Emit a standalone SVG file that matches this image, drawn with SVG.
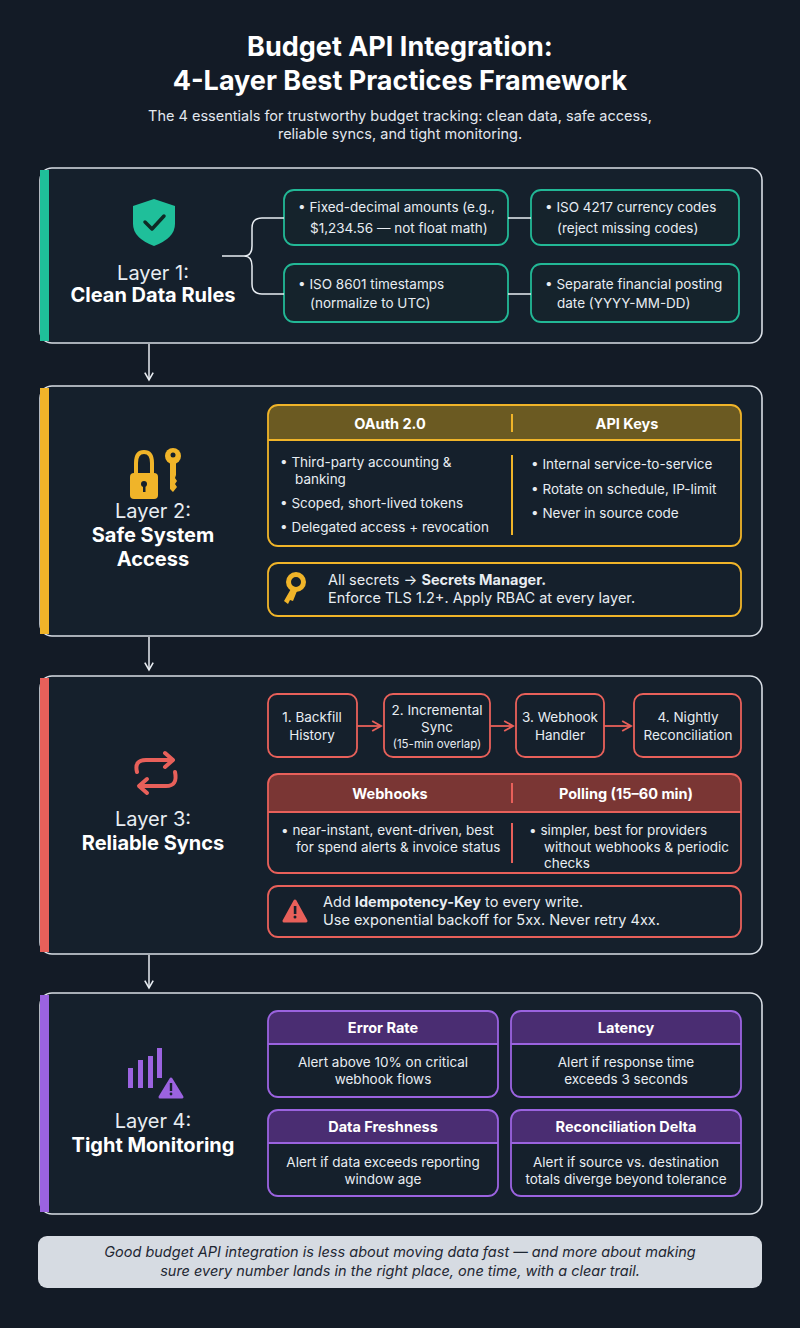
<svg xmlns="http://www.w3.org/2000/svg" width="800" height="1328" viewBox="0 0 800 1328">
<defs>
<style>
text{font-family:Inter,"Liberation Sans",sans-serif;fill:#e8edf2}
.t{font-size:27px;font-weight:700;fill:#fff}
.sub{font-size:14.5px;fill:#e2e7ee}
.panel{fill:#15202c;stroke:#d9dee5;stroke-width:1.6}
.lt{font-size:20px;fill:#e8edf2}
.lb{font-size:20px;font-weight:700;fill:#fff}
.b{font-size:13.5px}
.bb{font-size:13.5px;font-weight:700}
.h{font-size:14.5px;font-weight:700;fill:#fff}
.g{fill:#15232c;stroke:#22b896;stroke-width:1.8}
.y{fill:none;stroke:#f0b429;stroke-width:1.8}
.r{fill:none;stroke:#e8605a;stroke-width:1.8}
.p{fill:none;stroke:#9b63e0;stroke-width:1.8}
.c{text-anchor:middle}
.con{fill:none;stroke:#e8edf2;stroke-width:1.5}
</style>
<marker id="ah" viewBox="0 0 10 10" refX="8" refY="5" markerWidth="7" markerHeight="7" orient="auto"><path d="M1 1L8 5L1 9" fill="none" stroke="#e8edf2" stroke-width="1.5"/></marker>
<marker id="ar" viewBox="0 0 10 10" refX="8" refY="5" markerWidth="7" markerHeight="7" orient="auto"><path d="M1 1L8 5L1 9" fill="none" stroke="#e8605a" stroke-width="1.5"/></marker>
</defs>
<rect width="800" height="1328" fill="#131b26"/>
<g id="title">
<text class="t c" x="400" y="56">Budget API Integration:</text>
<text class="t c" x="400" y="90">4-Layer Best Practices Framework</text>
<text class="sub c" x="400" y="121">The 4 essentials for trustworthy budget tracking: clean data, safe access,</text>
<text class="sub c" x="400" y="139">reliable syncs, and tight monitoring.</text>
</g>
<g id="layer1">
<rect class="panel" x="40" y="168" width="722" height="175" rx="12"/>
<rect x="40" y="170" width="9" height="171" fill="#1fbf9a"/>
<path d="M154 199L175 206V224Q175 238 154 246Q133 238 133 224V206Z" fill="#1fbf9a"/>
<path d="M145 222L152 229L164 216" fill="none" stroke="#0f2a25" stroke-width="3.5" stroke-linecap="round" stroke-linejoin="round"/>
<text class="lt c" x="153" y="280">Layer 1:</text>
<text class="lb c" x="153" y="302">Clean Data Rules</text>
<rect class="g" x="284" y="190" width="224" height="55" rx="10"/>
<text class="b" x="298" y="212">•  Fixed-decimal amounts (e.g.,</text>
<text class="b" x="310" y="233">$1,234.56 — not float math)</text>
<rect class="g" x="531" y="190" width="208" height="55" rx="10"/>
<text class="b" x="545" y="212">•  ISO 4217 currency codes</text>
<text class="b" x="557" y="233">(reject missing codes)</text>
<rect class="g" x="284" y="264" width="224" height="58" rx="10"/>
<text class="b" x="298" y="289">•  ISO 8601 timestamps</text>
<text class="b" x="310" y="308">(normalize to UTC)</text>
<rect class="g" x="531" y="264" width="208" height="58" rx="10"/>
<text class="b" x="545" y="289">•  Separate financial posting</text>
<text class="b" x="557" y="308">date (YYYY-MM-DD)</text>
</g>
<g id="layer2">
<rect class="panel" x="40" y="386" width="722" height="250" rx="12"/>
<rect x="40" y="388" width="9" height="246" fill="#f0b429"/>
<rect x="130" y="473" width="28" height="26" rx="4" fill="#f0b429"/>
<path d="M136 474V463Q136 452 144 452Q152 452 152 463V474" fill="none" stroke="#f0b429" stroke-width="4"/>
<circle cx="144" cy="484" r="3" fill="#15202c"/><rect x="143" y="485" width="2.5" height="7" fill="#15202c"/>
<circle cx="173" cy="456" r="8" fill="#f0b429"/><circle cx="173" cy="455" r="2.5" fill="#15202c"/>
<path d="M170 462V489L173 492L177 487L175 484L177 481L175 478L176 475V462Z" fill="#f0b429"/>
<text class="lt c" x="153" y="518">Layer 2:</text>
<text class="lb c" x="153" y="542">Safe System</text>
<text class="lb c" x="153" y="566">Access</text>
<rect x="268" y="405" width="473" height="35" rx="10" fill="#6b5a22"/>
<rect x="268" y="425" width="473" height="15" fill="#6b5a22"/>
<rect class="y" x="268" y="405" width="473" height="141" rx="10"/>
<line x1="268" y1="440" x2="741" y2="440" stroke="#f0b429" stroke-width="1.8"/>
<line x1="512" y1="414" x2="512" y2="432" stroke="#f0b429" stroke-width="2"/>
<line x1="512" y1="455" x2="512" y2="535" stroke="#f0b429" stroke-width="2"/>
<text class="h c" x="390" y="429">OAuth 2.0</text>
<text class="h c" x="627" y="429">API Keys</text>
<text class="b" x="280" y="467">•  Third-party accounting &amp;</text>
<text class="b" x="295" y="484">banking</text>
<text class="b" x="280" y="508">•  Scoped, short-lived tokens</text>
<text class="b" x="280" y="532">•  Delegated access + revocation</text>
<text class="b" x="531" y="469">•  Internal service-to-service</text>
<text class="b" x="531" y="494">•  Rotate on schedule, IP-limit</text>
<text class="b" x="531" y="518">•  Never in source code</text>
<rect class="y" x="268" y="563" width="473" height="53" rx="10"/>
<circle cx="296" cy="582" r="7.5" fill="none" stroke="#f0b429" stroke-width="5"/>
<path d="M292 587L284 601L288 604L290 600L293 601L297 591Z" fill="#f0b429"/>
<text class="b" x="328" y="585" style="font-size:14.5px">All secrets → <tspan font-weight="700">Secrets Manager.</tspan></text>
<text class="b" x="328" y="603" style="font-size:14.5px">Enforce TLS 1.2+. Apply RBAC at every layer.</text>
</g>
<g id="layer3">
<rect class="panel" x="40" y="676" width="722" height="278" rx="12"/>
<rect x="40" y="678" width="9" height="274" fill="#e8605a"/>
<path d="M137 772Q134 760 146 760H172M165 753L173 760L165 767" fill="none" stroke="#e8605a" stroke-width="4" stroke-linecap="round" stroke-linejoin="round"/>
<path d="M175 772Q178 786 166 786H140M147 779L139 786L147 793" fill="none" stroke="#e8605a" stroke-width="4" stroke-linecap="round" stroke-linejoin="round"/>
<text class="lt c" x="153" y="826">Layer 3:</text>
<text class="lb c" x="153" y="850">Reliable Syncs</text>
<rect class="r" x="268" y="694" width="89" height="63" rx="9"/>
<text class="b c" x="312" y="722">1. Backfill</text><text class="b c" x="312" y="740">History</text>
<rect class="r" x="384" y="694" width="106" height="63" rx="9"/>
<text class="b c" x="437" y="715">2. Incremental</text><text class="b c" x="437" y="732">Sync</text>
<text class="c" x="437" y="748" style="font-size:11.5px">(15-min overlap)</text>
<rect class="r" x="516" y="694" width="88" height="63" rx="9"/>
<text class="b c" x="560" y="722">3. Webhook</text><text class="b c" x="560" y="740">Handler</text>
<rect class="r" x="634" y="694" width="107" height="63" rx="9"/>
<text class="b c" x="688" y="722">4. Nightly</text><text class="b c" x="688" y="740">Reconciliation</text>
<rect x="268" y="774" width="473" height="38" rx="10" fill="#7a3634"/>
<rect x="268" y="795" width="473" height="17" fill="#7a3634"/>
<rect class="r" x="268" y="774" width="473" height="99" rx="10"/>
<line x1="268" y1="812" x2="741" y2="812" stroke="#e8605a" stroke-width="1.8"/>
<line x1="512" y1="783" x2="512" y2="803" stroke="#e8605a" stroke-width="2"/>
<line x1="512" y1="823" x2="512" y2="863" stroke="#e8605a" stroke-width="2"/>
<text class="h c" x="390" y="799">Webhooks</text>
<text class="h c" x="626" y="799">Polling (15–60 min)</text>
<text class="b" x="281" y="835">•  near-instant, event-driven, best</text>
<text class="b" x="296" y="852">for spend alerts &amp; invoice status</text>
<text class="b" x="529" y="835">•  simpler, best for providers</text>
<text class="b" x="544" y="852">without webhooks &amp; periodic</text>
<text class="b" x="544" y="868">checks</text>
<rect class="r" x="268" y="886" width="473" height="51" rx="10"/>
<path d="M295 901L306 921H284Z" fill="#e8605a" stroke="#e8605a" stroke-width="3" stroke-linejoin="round"/>
<rect x="293.8" y="906" width="2.6" height="8" fill="#15202c"/><circle cx="295" cy="917" r="1.5" fill="#15202c"/>
<text class="b" x="323" y="907" style="font-size:14.5px">Add <tspan font-weight="700">Idempotency-Key</tspan> to every write.</text>
<text class="b" x="323" y="925" style="font-size:14.5px">Use exponential backoff for 5xx. Never retry 4xx.</text>
</g>
<g id="layer4">
<rect class="panel" x="40" y="993" width="722" height="221" rx="12"/>
<rect x="40" y="995" width="9" height="217" fill="#9b63e0"/>
<rect x="128" y="1068" width="5" height="20" fill="#9b63e0"/>
<rect x="138" y="1060" width="5" height="28" fill="#9b63e0"/>
<rect x="148" y="1056" width="5" height="32" fill="#9b63e0"/>
<rect x="157" y="1048" width="5" height="30" fill="#9b63e0"/>
<path d="M171 1079L182 1097H160Z" fill="#9b63e0" stroke="#9b63e0" stroke-width="3" stroke-linejoin="round"/>
<rect x="169.8" y="1083" width="2.4" height="8" fill="#15202c"/><circle cx="171" cy="1094" r="1.4" fill="#15202c"/>
<text class="lt c" x="153" y="1128">Layer 4:</text>
<text class="lb c" x="153" y="1152">Tight Monitoring</text>
<g>
<rect x="268" y="1011" width="230" height="33" rx="10" fill="#4a2d72"/><rect x="268" y="1030" width="230" height="14" fill="#4a2d72"/>
<rect class="p" x="268" y="1011" width="230" height="86" rx="10"/><line x1="268" y1="1044" x2="498" y2="1044" stroke="#9b63e0" stroke-width="1.8"/>
<text class="h c" x="383" y="1033">Error Rate</text>
<text class="b c" x="383" y="1067">Alert above 10% on critical</text><text class="b c" x="383" y="1084">webhook flows</text>
</g>
<g>
<rect x="511" y="1011" width="230" height="33" rx="10" fill="#4a2d72"/><rect x="511" y="1030" width="230" height="14" fill="#4a2d72"/>
<rect class="p" x="511" y="1011" width="230" height="86" rx="10"/><line x1="511" y1="1044" x2="741" y2="1044" stroke="#9b63e0" stroke-width="1.8"/>
<text class="h c" x="626" y="1033">Latency</text>
<text class="b c" x="626" y="1067">Alert if response time</text><text class="b c" x="626" y="1084">exceeds 3 seconds</text>
</g>
<g>
<rect x="268" y="1110" width="230" height="33" rx="10" fill="#4a2d72"/><rect x="268" y="1129" width="230" height="14" fill="#4a2d72"/>
<rect class="p" x="268" y="1110" width="230" height="86" rx="10"/><line x1="268" y1="1143" x2="498" y2="1143" stroke="#9b63e0" stroke-width="1.8"/>
<text class="h c" x="383" y="1132">Data Freshness</text>
<text class="b c" x="383" y="1167">Alert if data exceeds reporting</text><text class="b c" x="383" y="1184">window age</text>
</g>
<g>
<rect x="511" y="1110" width="230" height="33" rx="10" fill="#4a2d72"/><rect x="511" y="1129" width="230" height="14" fill="#4a2d72"/>
<rect class="p" x="511" y="1110" width="230" height="86" rx="10"/><line x1="511" y1="1143" x2="741" y2="1143" stroke="#9b63e0" stroke-width="1.8"/>
<text class="h c" x="626" y="1132">Reconciliation Delta</text>
<text class="b c" x="626" y="1167">Alert if source vs. destination</text><text class="b c" x="626" y="1184">totals diverge beyond tolerance</text>
</g>
</g>
<g id="footer">
<rect x="38" y="1236" width="724" height="52" rx="9" fill="#d6dbe2"/>
<text class="c" x="400" y="1257" style="font-size:14.5px;font-style:italic;fill:#1e2733">Good budget API integration is less about moving data fast — and more about making</text>
<text class="c" x="400" y="1276" style="font-size:14.5px;font-style:italic;fill:#1e2733">sure every number lands in the right place, one time, with a clear trail.</text>
</g>
<g id="connectors">
<line class="con" x1="149" y1="344" x2="149" y2="380" marker-end="url(#ah)"/>
<line class="con" x1="149" y1="637" x2="149" y2="670" marker-end="url(#ah)"/>
<line class="con" x1="149" y1="955" x2="149" y2="988" marker-end="url(#ah)"/>
<path class="con" d="M222 256H244Q252 256 252 246V228Q252 218 262 218H284M244 256Q252 256 252 266V284Q252 294 262 294H284"/>
<path class="con" d="M508 218H531M508 294H531"/>
<line x1="357" y1="726" x2="381" y2="726" stroke="#e8605a" stroke-width="1.8" marker-end="url(#ar)"/>
<line x1="490" y1="726" x2="513" y2="726" stroke="#e8605a" stroke-width="1.8" marker-end="url(#ar)"/>
<line x1="604" y1="726" x2="631" y2="726" stroke="#e8605a" stroke-width="1.8" marker-end="url(#ar)"/>
</g>
</svg>
